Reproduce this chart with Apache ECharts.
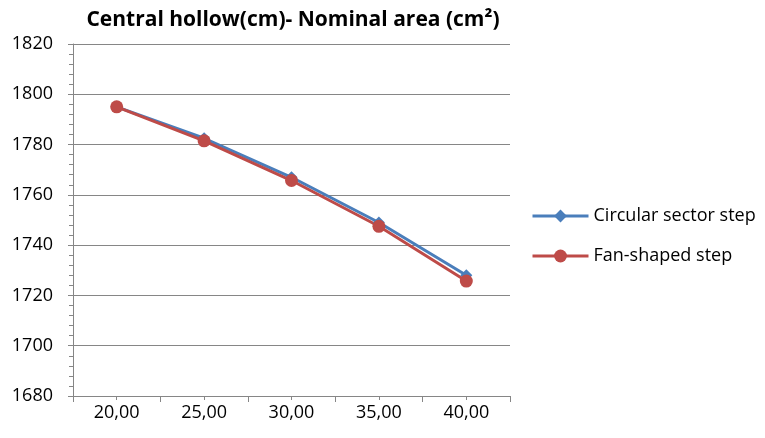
<!DOCTYPE html>
<html>
<head>
<meta charset="utf-8">
<script src="https://cdn.jsdelivr.net/npm/echarts@6/dist/echarts.min.js"></script>
<style>html,body{margin:0;padding:0;background:#fff}#c{width:765px;height:438px}</style>
</head>
<body>
<div id="c"></div>
<script>
const categories = ['20,00', '25,00', '30,00', '35,00', '40,00'];
const circularSector = [1795, 1782.5, 1767, 1749, 1728];
const fanShaped = [1795, 1781.5, 1765.7, 1747.5, 1725.7];
const seriesNames = ['Circular sector step', 'Fan-shaped step'];
const titleText = 'Central hollow(cm)- Nominal area (cm²)';

const FONT = '"Open Sans", "Liberation Sans", sans-serif';
const AXC = '#868686';
const chart = echarts.init(document.getElementById('c'), null, {renderer: 'canvas'});
chart.setOption({
  animation: false,
  title: {
    text: titleText,
    left: 288, top: 5, textAlign: 'center',
    textStyle: {fontFamily: FONT, fontWeight: 'bold', fontSize: 21, color: '#000'}
  },
  grid: {left: 73, right: 255, top: 44, bottom: 42},
  legend: {
    orient: 'vertical', left: 526, top: 202, itemGap: 22,
    itemWidth: 56, itemHeight: 16,
    lineStyle: {width: 3},
    textStyle: {fontFamily: FONT, fontSize: 18, color: '#000'},
    data: seriesNames
  },
  xAxis: [{
    type: 'category', data: categories, boundaryGap: true,
    axisLine: {lineStyle: {color: AXC, width: 1}},
    axisTick: {show: true, interval: 0, length: 6, lineStyle: {color: AXC}},
    axisLabel: {fontFamily: FONT, fontSize: 18, color: '#000', margin: 8, interval: 0},
    splitLine: {show: false}
  }, {
    type: 'category', data: categories, boundaryGap: true, position: 'bottom',
    axisLine: {show: false},
    axisTick: {show: true, interval: 0, alignWithLabel: true, length: 4, lineStyle: {color: AXC}},
    axisLabel: {show: false},
    splitLine: {show: false}
  }],
  yAxis: {
    type: 'value', min: 1680, max: 1820, interval: 20,
    axisLine: {show: true, lineStyle: {color: AXC}},
    axisTick: {show: true, length: 5, lineStyle: {color: AXC}},
    minorTick: {show: true, splitNumber: 5, length: 4, lineStyle: {color: AXC}},
    axisLabel: {fontFamily: FONT, fontSize: 18, color: '#000', margin: 20, formatter: v => String(v)},
    splitLine: {show: true, lineStyle: {color: AXC, width: 1}}
  },
  series: [{
    name: seriesNames[0], type: 'line', data: circularSector, xAxisIndex: 0,
    symbol: 'diamond', symbolSize: 12,
    lineStyle: {color: '#4a7ebb', width: 3},
    itemStyle: {color: '#4a7ebb'}
  }, {
    name: seriesNames[1], type: 'line', data: fanShaped, xAxisIndex: 0,
    symbol: 'circle', symbolSize: 13,
    lineStyle: {color: '#be4b48', width: 3},
    itemStyle: {color: '#be4b48'}
  }]
});
</script>
</body>
</html>
